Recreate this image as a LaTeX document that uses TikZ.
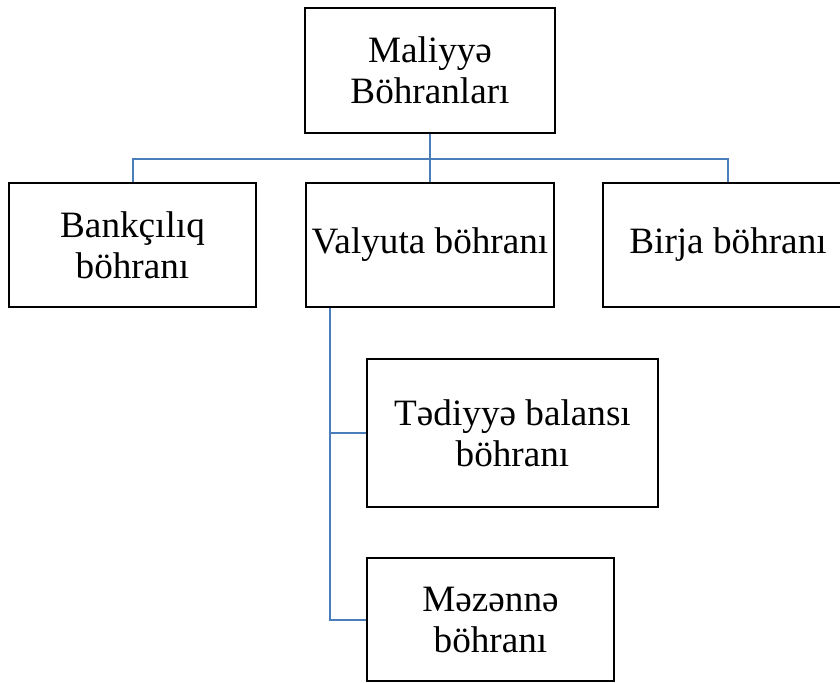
\documentclass[tikz,border=0pt]{standalone}
\usepackage{fontspec}
\setmainfont{Liberation Serif}
\usepackage{tikz}
\definecolor{xettmavi}{RGB}{74,126,187}
\tikzstyle{kutu} = [draw=black, line width=1pt, rectangle, align=center, inner sep=0pt, font=\fontsize{18.6}{20.5}\selectfont]
\tikzstyle{xett} = [draw=xettmavi, line width=1pt]

\begin{document}
\begin{tikzpicture}[x=0.5pt, y=-0.5pt]
	\useasboundingbox (0,0) rectangle (840,682);
	\node[kutu, minimum width=125pt, minimum height=62.5pt] (mal) at (430,70.5) {Maliyyə\\Böhranları};
	\node[kutu, minimum width=123.5pt, minimum height=62pt] (bank) at (132.5,245) {Bankçılıq\\böhranı};
	\node[kutu, minimum width=124pt, minimum height=62pt] (val) at (430,245) {Valyuta böhranı};
	\node[kutu, minimum width=125pt, minimum height=62pt] (birja) at (728,245) {Birja böhranı};
	\node[kutu, minimum width=145.5pt, minimum height=74pt] (ted) at (512.5,433) {Tədiyyə balansı\\böhranı};
	\node[kutu, minimum width=123.5pt, minimum height=61.5pt] (mez) at (490.5,619.5) {Məzənnə\\böhranı};
	% xettler
	\draw[xett] (mal.south) -- ++(0,25) coordinate (ayir);
	\draw[xett] (bank.north) |- (ayir) -| (birja.north);
	\draw[xett] (ayir) -- (val.north);
	\draw[xett] ([xshift=12.5pt]val.south west) coordinate (govde) |- (mez.west);
	\draw[xett] (govde) |- (ted.west);
\end{tikzpicture}
\end{document}
